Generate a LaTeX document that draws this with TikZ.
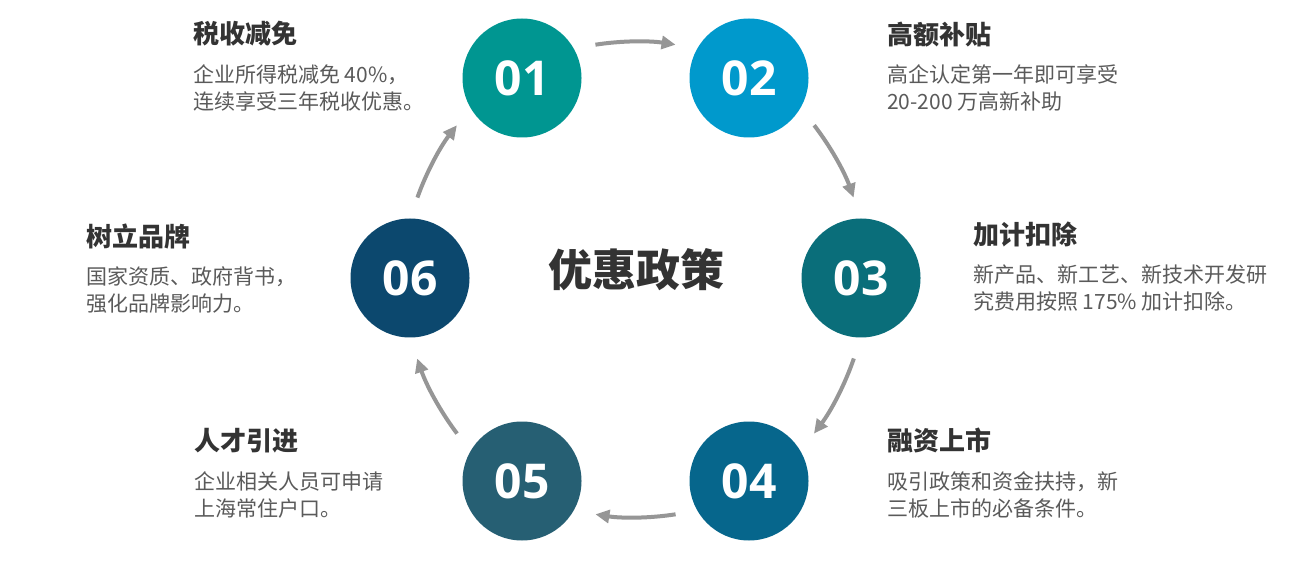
\documentclass[tikz,border=0pt]{standalone}
\usepackage{fontspec}
\setmainfont{Noto Sans CJK SC}
\newfontfamily\numfont{Open Sans}
\usetikzlibrary{arrows.meta}
\definecolor{cA}{RGB}{0,150,145}
\definecolor{cB}{RGB}{0,153,204}
\definecolor{cC}{RGB}{10,110,122}
\definecolor{cD}{RGB}{6,102,140}
\definecolor{cE}{RGB}{38,95,115}
\definecolor{cF}{RGB}{12,72,110}
\definecolor{titlec}{RGB}{51,51,51}
\definecolor{bodyc}{RGB}{90,90,90}
\definecolor{arrc}{RGB}{150,150,150}
\begin{document}
\begin{tikzpicture}[x=1pt,y=1pt,
  num/.style={circle,minimum size=119pt,inner sep=0pt,text=white,
    font=\numfont\bfseries\fontsize{48}{48}\selectfont},
  ttl/.style={anchor=base west,inner sep=0pt,text=titlec,
    font=\bfseries\fontsize{26}{26}\selectfont},
  bodyline/.style={anchor=base west,inner sep=0pt,text=bodyc,
    font=\fontsize{21}{27}\selectfont},
  flow/.style={draw=arrc,line width=4pt,-{Triangle[length=14pt,width=13pt]},
    shorten <=22pt,shorten >=22pt}]
\useasboundingbox[fill=white] (0,0) rectangle (1303,576);

% circles
\node[num,fill=cA] (n1) at (522,498) {01};
\node[num,fill=cB] (n2) at (749,498) {02};
\node[num,fill=cC] (n3) at (861,298) {03};
\node[num,fill=cD] (n4) at (749,95) {04};
\node[num,fill=cE] (n5) at (522,95) {05};
\node[num,fill=cF] (n6) at (410,298) {06};

% centre title
\node[text=titlec,font=\bfseries\fontsize{44}{44}\selectfont,inner sep=0pt] (ctr) at (636,306) {优惠政策};

% arrows
\foreach \a/\b/\s/\e in {n1/n2/30/150, n2/n3/-30/90, n3/n4/-90/30, n4/n5/-150/-30, n5/n6/150/-90, n6/n1/90/-150}
  \draw[flow] (\a.\s) to[bend left=9] (\b.\e);

% 01
\node[ttl] (t1) at (193,532) {税收减免};
\node[bodyline] (t1a) at (193,493) {企业所得税减免 40\%，};
\node[bodyline] (t1b) at (193,466) {连续享受三年税收优惠。};
% 02
\node[ttl] (t2) at (887,531) {高额补贴};
\node[bodyline] (t2a) at (887,493) {高企认定第一年即可享受};
\node[bodyline] (t2b) at (887,466) {20-200 万高新补助};
% 03
\node[ttl] (t3) at (973,331) {加计扣除};
\node[bodyline] (t3a) at (973,293) {新产品、新工艺、新技术开发研};
\node[bodyline] (t3b) at (973,266) {究费用按照 175\% 加计扣除。};
% 06
\node[ttl] (t6) at (86,329) {树立品牌};
\node[bodyline] (t6a) at (86,291) {国家资质、政府背书，};
\node[bodyline] (t6b) at (86,264) {强化品牌影响力。};
% 05
\node[ttl] (t5) at (194,126) {人才引进};
\node[bodyline] (t5a) at (194,87) {企业相关人员可申请};
\node[bodyline] (t5b) at (194,60) {上海常住户口。};
% 04
\node[ttl] (t4) at (887,126) {融资上市};
\node[bodyline] (t4a) at (887,87) {吸引政策和资金扶持，新};
\node[bodyline] (t4b) at (887,60) {三板上市的必备条件。};
\end{tikzpicture}
\end{document}
